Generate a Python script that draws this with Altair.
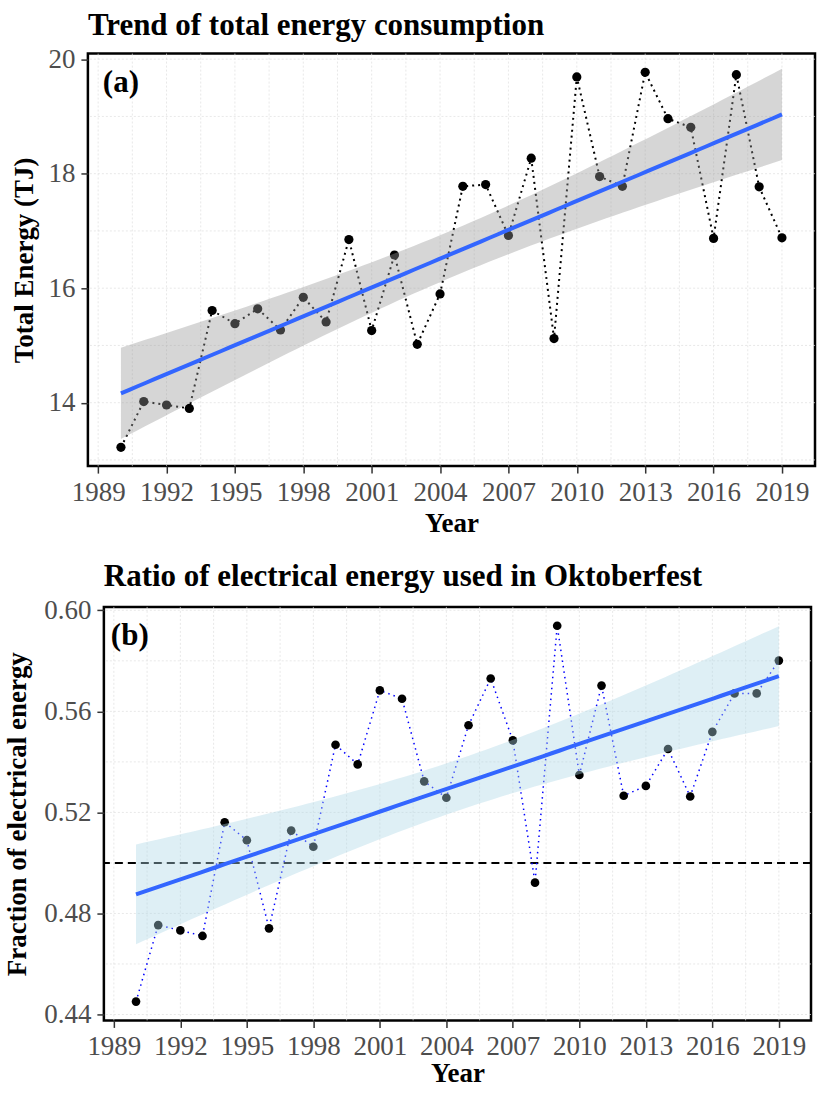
import altair as alt
import numpy as np
import pandas as pd

# ---------------- data ----------------
years = list(range(1990, 2020))
total_energy = [13.22, 14.02, 13.96, 13.90, 15.61, 15.38, 15.64, 15.27, 15.84, 15.41,
                16.85, 15.26, 16.58, 15.02, 15.90, 17.78, 17.81, 16.92, 18.27, 15.12,
                19.69, 17.95, 17.78, 19.77, 18.96, 18.81, 16.87, 19.73, 17.77, 16.88]
elec_fraction = [0.4451, 0.4754, 0.4733, 0.4711, 0.5161, 0.5090, 0.4741, 0.5128, 0.5064, 0.5468,
                 0.5390, 0.5683, 0.5650, 0.5323, 0.5258, 0.5545, 0.5730, 0.5485, 0.4922, 0.5939,
                 0.5348, 0.5702, 0.5266, 0.5305, 0.5451, 0.5263, 0.5519, 0.5671, 0.5671, 0.5801]
year_ticks = list(range(1989, 2020, 3))
energy_ticks = [14, 16, 18, 20]
fraction_ticks = [0.44, 0.48, 0.52, 0.56, 0.60]
reference_fraction = [0.5]

FONT = "Liberation Serif"
T_CRIT = 2.0484  # Student t quantile (0.975, df = 28) for the 95% band


def expand(vals, mult=0.05):
    lo, hi = min(vals), max(vals)
    d = (hi - lo) * mult
    return [lo - d, hi + d]


def lm_band(x, y, n=80):
    x = np.asarray(x, float)
    y = np.asarray(y, float)
    b1, b0 = np.polyfit(x, y, 1)
    resid = y - (b0 + b1 * x)
    s = np.sqrt(np.sum(resid ** 2) / (len(x) - 2))
    xs = np.linspace(x.min(), x.max(), n)
    se = s * np.sqrt(1 / len(x) + (xs - x.mean()) ** 2 / np.sum((x - x.mean()) ** 2))
    fit = b0 + b1 * xs
    return pd.DataFrame({"Year": xs, "fit": fit, "lo": fit - T_CRIT * se, "hi": fit + T_CRIT * se})


def minor_lines(ticks, dom):
    step = ticks[1] - ticks[0]
    cands = [ticks[0] - step / 2] + [t + step / 2 for t in ticks]
    return [c for c in cands if dom[0] <= c <= dom[1]]


def panel(values, yticks, yfmt, title, ytitle, label, label_x, line_color, line_dash,
          line_width, band_color, point_size, width, height, y_title_pad, y_min_extent,
          x_title_pad, hline=None):
    xdom = expand(years)
    ydom = expand(values)
    xs = alt.Scale(domain=xdom, nice=False, zero=False)
    ys = alt.Scale(domain=ydom, nice=False, zero=False)
    xaxis = alt.Axis(values=year_ticks, format="d", title="Year", titlePadding=x_title_pad,
                     labelOverlap=False, labelFlush=False)
    yaxis = alt.Axis(values=yticks, format=yfmt, title=ytitle, titlePadding=y_title_pad,
                     minExtent=y_min_extent, labelOverlap=False, labelFlush=False)
    X = lambda f: alt.X(f, scale=xs, axis=xaxis)
    Y = lambda f: alt.Y(f, scale=ys, axis=yaxis)

    data = pd.DataFrame({"Year": years, "Value": values})
    fit = lm_band(years, values)
    grid_style = dict(color="#DEDEDE", strokeWidth=0.7, strokeDash=[2, 2])

    vgrid = alt.Chart(pd.DataFrame({"Year": year_ticks + minor_lines(year_ticks, xdom)})).mark_rule(
        **grid_style).encode(x=X("Year:Q"))
    hgrid = alt.Chart(pd.DataFrame({"Value": list(yticks) + minor_lines(yticks, ydom)})).mark_rule(
        **grid_style).encode(y=Y("Value:Q"))
    layers = [vgrid, hgrid]
    if hline is not None:
        layers.append(alt.Chart(pd.DataFrame({"Value": hline})).mark_rule(
            color="black", strokeDash=[8, 5], strokeWidth=2).encode(y=Y("Value:Q")))
    path = alt.Chart(data).mark_line(color=line_color, strokeDash=line_dash,
                                     strokeWidth=line_width).encode(x=X("Year:Q"), y=Y("Value:Q"))
    pts = alt.Chart(data).mark_circle(size=point_size, color="black", opacity=1).encode(
        x=X("Year:Q"), y=Y("Value:Q"))
    band = alt.Chart(fit).mark_area(color=band_color, opacity=0.4).encode(
        x=X("Year:Q"), y=Y("lo:Q"), y2="hi:Q")
    reg = alt.Chart(fit).mark_line(color="#3366FF", strokeWidth=4).encode(
        x=X("Year:Q"), y=Y("fit:Q"))
    tag = alt.Chart(pd.DataFrame({"t": [label]})).mark_text(
        font=FONT, fontSize=31, fontWeight="bold", align="left", baseline="alphabetic",
        color="black").encode(text="t:N", x=alt.value(label_x), y=alt.value(38))
    layers += [path, pts, band, reg, tag]
    return alt.layer(*layers).properties(
        width=width, height=height,
        title=alt.TitleParams(title, font=FONT, fontSize=31, fontWeight="bold", color="black",
                              anchor="start", frame="group", offset=3))


def spacer():
    # invisible 1-px cell used only to give each row its own left offset
    return alt.Chart(pd.DataFrame({"s": [""]})).mark_text(opacity=0).encode(
        text="s:N", x=alt.value(0), y=alt.value(0)
    ).properties(width=1, height=1,
                 view=alt.ViewBackground(strokeOpacity=0, strokeWidth=0, fillOpacity=0))


top = panel(total_energy, energy_ticks, "d", "Trend of total energy consumption",
            "Total Energy (TJ)", "(a)", 15, "black", [2, 4], 2, "#999999", 85,
            728, 413, 9.6, 40, 5)
bottom = panel(elec_fraction, fraction_ticks, ".2f",
               "Ratio of electrical energy used in Oktoberfest",
               "Fraction of electrical energy", "(b)", 7, "blue", [1.5, 4], 1.5, "#ADD8E6", 75,
               708, 414, 11, 61, 1, hline=reference_fraction)

top_row = alt.hconcat(spacer(), top, spacing=8)
bottom_row = alt.hconcat(spacer(), bottom, spacing=1)

chart = alt.vconcat(top_row, bottom_row, spacing=22).properties(
    padding={"left": 0, "top": 8, "right": 0, "bottom": 0},
    background="white",
).configure_view(
    stroke="black", strokeWidth=2.5
).configure_axis(
    labelFont=FONT, labelFontSize=27, labelColor="#4D4D4D",
    titleFont=FONT, titleFontSize=27, titleFontWeight="bold", titleColor="black",
    tickColor="#333333", tickWidth=1.5, tickSize=7, labelPadding=6,
    domain=False, grid=False
)

chart.save("out.html", embed_options={"renderer": "svg", "actions": False})
